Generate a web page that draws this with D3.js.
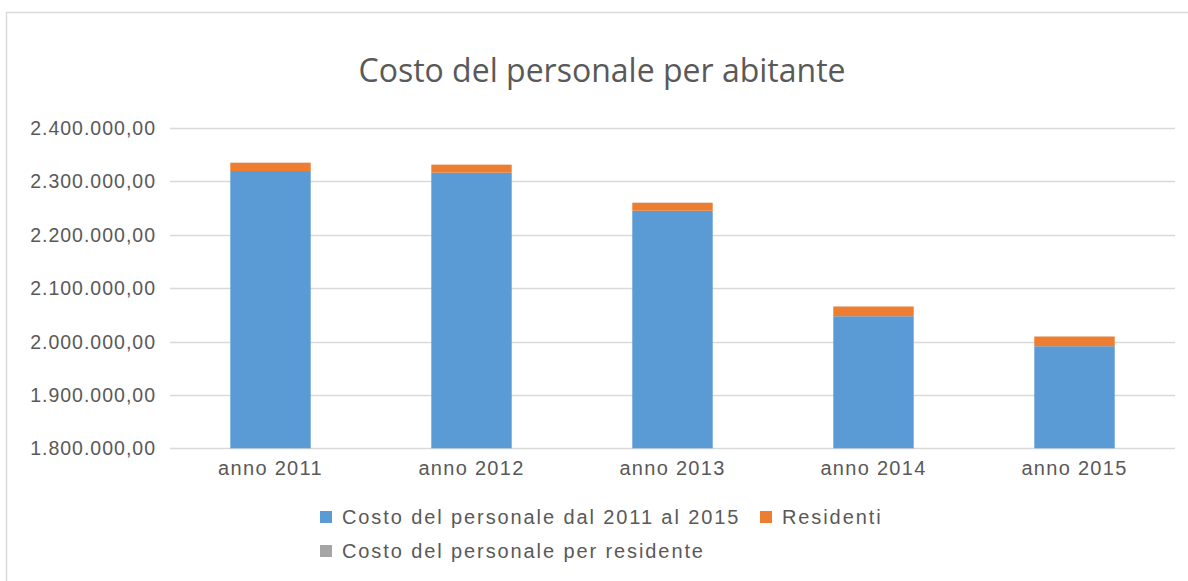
<!DOCTYPE html>
<html>
<head>
<meta charset="utf-8">
<script src="https://cdn.jsdelivr.net/npm/d3@7"></script>
<style>
  body { margin: 0; background: #fff; }
  text { font-family: "Liberation Sans", Arial, sans-serif; fill: #595959; }
</style>
</head>
<body>
<svg id="chart" width="1188" height="581"></svg>
<script>
// values
const years = ["anno 2011", "anno 2012", "anno 2013", "anno 2014", "anno 2015"];
const costo = [2319500, 2316300, 2245000, 2047400, 1991200];
const residenti = [15500, 15000, 15000, 18200, 18200];
const costoPerResidente = [150, 154, 150, 112, 109];
const seriesNames = ["Costo del personale dal 2011 al 2015", "Residenti", "Costo del personale per residente"];
const colors = ["#5B9BD5", "#ED7D31", "#A5A5A5"];
const yTicks = [1800000, 1900000, 2000000, 2100000, 2200000, 2300000, 2400000];

const width = 1188, height = 581;
const margin = {left: 170, right: 13, top: 128, bottom: 133};

const svg = d3.select("#chart");

// chart area border
svg.append("rect")
    .attr("x", 6.5).attr("y", 12.5)
    .attr("width", 1200).attr("height", 600)
    .attr("fill", "#fff")
    .attr("stroke", "#d9d9d9").attr("stroke-width", 1.5);

const x = d3.scaleBand()
    .domain(years)
    .range([margin.left, width - margin.right])
    .paddingInner(0.6).paddingOuter(0.3);

const y = d3.scaleLinear()
    .domain([1800000, 2400000])
    .range([height - margin.bottom + 0.3, margin.top]);

const fmt = v => d3.format(",.2f")(v).replace(/,/g, "#").replace(".", ",").replace(/#/g, ".");

// gridlines
svg.append("g").selectAll("line")
    .data(yTicks).join("line")
    .attr("x1", margin.left).attr("x2", width - margin.right)
    .attr("y1", d => Math.round(y(d)) + 0.5).attr("y2", d => Math.round(y(d)) + 0.5)
    .attr("stroke", "#d9d9d9").attr("stroke-width", 1.5);

// y labels
svg.append("g").selectAll("text")
    .data(yTicks).join("text")
    .attr("x", 156)
    .attr("y", d => y(d))
    .attr("dy", "0.36em")
    .attr("text-anchor", "end")
    .style("font-size", "19.5px")
    .style("letter-spacing", "1px")
    .text(fmt);

// stacked data
const rows = years.map((yr, i) => ({year: yr, s0: costo[i], s1: residenti[i], s2: costoPerResidente[i]}));
const stack = d3.stack().keys(["s0", "s1", "s2"]);
const layers = stack(rows);

const clipY = y(1800000);
svg.append("g").selectAll("g")
    .data(layers).join("g")
    .attr("fill", (d, i) => colors[i])
    .selectAll("rect")
    .data(d => d).join("rect")
    .attr("x", d => x(d.data.year))
    .attr("width", x.bandwidth())
    .attr("y", d => y(d[1]))
    .attr("height", d => Math.max(0, Math.min(clipY, y(Math.max(d[0], 1800000))) - y(d[1])));

// x labels
svg.append("g").selectAll("text")
    .data(years).join("text")
    .attr("x", d => x(d) + x.bandwidth() / 2)
    .attr("y", 475)
    .attr("text-anchor", "middle")
    .style("font-size", "20px")
    .style("letter-spacing", "1.3px")
    .text(d => d);

// title
svg.append("text")
    .attr("x", 602).attr("y", 82)
    .attr("text-anchor", "middle")
    .style("font-family", "'Open Sans', sans-serif")
    .style("font-size", "32px")
    .text("Costo del personale per abitante");

// legend
const legendPos = [{x: 320, y: 517}, {x: 760, y: 517}, {x: 320, y: 551}];
const legend = svg.append("g").selectAll("g")
    .data(seriesNames).join("g")
    .attr("transform", (d, i) => `translate(${legendPos[i].x},${legendPos[i].y})`);
legend.append("rect")
    .attr("x", 0).attr("y", -6).attr("width", 12).attr("height", 12)
    .attr("fill", (d, i) => colors[i]);
legend.append("text")
    .attr("x", 22).attr("dy", "0.36em")
    .style("font-size", "20px")
    .style("letter-spacing", "1.9px")
    .text(d => d);
</script>
</body>
</html>
